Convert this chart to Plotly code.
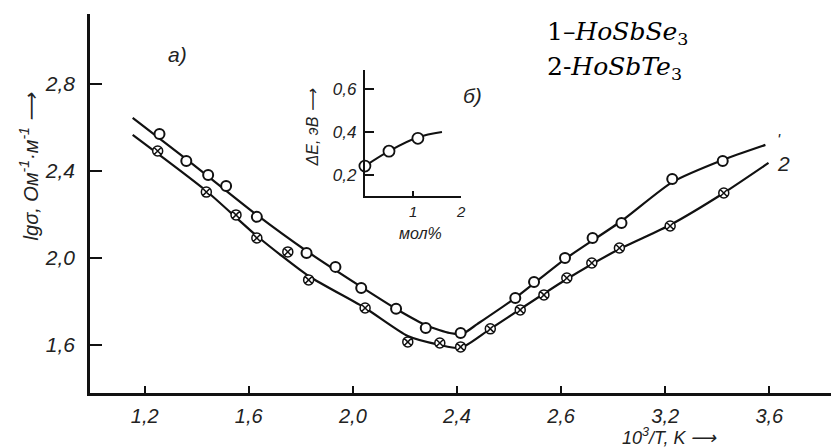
import plotly.graph_objects as go

# ---- main chart data (10^3/T, lg sigma) ----
x_ticks = [1.2, 1.6, 2.0, 2.4, 2.8, 3.2, 3.6]
x_ticktext = ["1,2", "1,6", "2,0", "2,4", "2,6", "3,2", "3,6"]
y_ticks = [1.6, 2.0, 2.4, 2.8]
y_ticktext = ["1,6", "2,0", "2,4", "2,8"]

s1_x = [1.257, 1.360, 1.444, 1.513, 1.631, 1.822, 1.933, 2.032, 2.166, 2.280, 2.414,
        2.624, 2.696, 2.815, 2.921, 3.032, 3.227, 3.421]
s1_y = [2.570, 2.446, 2.382, 2.331, 2.189, 2.023, 1.959, 1.862, 1.766, 1.678, 1.655,
        1.816, 1.890, 2.000, 2.092, 2.161, 2.363, 2.446]

s2_x = [1.250, 1.437, 1.551, 1.631, 1.750, 1.830, 2.047, 2.211, 2.334, 2.414,
        2.528, 2.643, 2.734, 2.822, 2.918, 3.024, 3.219, 3.425]
s2_y = [2.492, 2.303, 2.198, 2.092, 2.028, 1.899, 1.770, 1.614, 1.609, 1.591,
        1.674, 1.761, 1.830, 1.908, 1.977, 2.046, 2.147, 2.299]

c1_x = [1.154, 1.360, 1.631, 1.822, 2.032, 2.173, 2.288, 2.372, 2.421, 2.479, 2.624,
        2.815, 3.032, 3.227, 3.421, 3.585]
c1_y = [2.644, 2.455, 2.198, 2.032, 1.867, 1.761, 1.687, 1.655, 1.651, 1.697, 1.816,
        1.995, 2.170, 2.349, 2.451, 2.520]

c2_x = [1.154, 1.437, 1.631, 1.830, 2.047, 2.211, 2.334, 2.414, 2.528, 2.822, 3.024,
        3.219, 3.425, 3.597]
c2_y = [2.566, 2.308, 2.101, 1.917, 1.770, 1.641, 1.600, 1.586, 1.674, 1.903, 2.041,
        2.152, 2.299, 2.437]

# ---- inset data (mol %, dE eV) ----
in_x = [0.0, 0.5, 1.1]
in_y = [0.24, 0.31, 0.37]
in_line_x = [0.0, 0.5, 1.1, 1.6]
in_line_y = [0.24, 0.31, 0.375, 0.40]
in_xticks = [1, 2]
in_xticktext = ["1", "2"]
in_yticks = [0.2, 0.4, 0.6]
in_yticktext = ["0,2", "0,4", "0,6"]

xtickfont = dict(family="Liberation Sans", size=20, color="#222", style="italic")
ytickfont = dict(family="Liberation Sans", size=21, color="#222", style="italic")
inset_yfont = dict(family="Liberation Sans", size=17, color="#222", style="italic")
inset_xfont = dict(family="Liberation Sans", size=15, color="#222", style="italic")

fig = go.Figure()
fig.add_trace(go.Scatter(x=c1_x, y=c1_y, mode="lines",
                         line=dict(color="#111", width=2.2, shape="spline", smoothing=0.6),
                         hoverinfo="skip"))
fig.add_trace(go.Scatter(x=c2_x, y=c2_y, mode="lines",
                         line=dict(color="#111", width=2.2, shape="spline", smoothing=0.6),
                         hoverinfo="skip"))
fig.add_trace(go.Scatter(x=s1_x, y=s1_y, mode="markers",
                         marker=dict(symbol="circle", size=10, color="white",
                                     line=dict(color="#111", width=2))))
fig.add_trace(go.Scatter(x=s2_x, y=s2_y, mode="markers",
                         marker=dict(symbol="circle-x", size=10, color="white",
                                     line=dict(color="#111", width=1.5))))
fig.add_trace(go.Scatter(x=in_line_x, y=in_line_y, mode="lines", xaxis="x2", yaxis="y2",
                         line=dict(color="#111", width=2, shape="spline")))
fig.add_trace(go.Scatter(x=in_x, y=in_y, mode="markers", xaxis="x2", yaxis="y2",
                         marker=dict(symbol="circle", size=11, color="white",
                                     line=dict(color="#111", width=1.8)),
                         cliponaxis=False))

fig.update_layout(
    width=836, height=448,
    margin=dict(l=90, r=0, t=14, b=55),
    paper_bgcolor="white", plot_bgcolor="white",
    showlegend=False,
    xaxis=dict(range=[0.99, 3.837], tickvals=x_ticks, ticktext=x_ticktext,
               showgrid=False, zeroline=False, showline=True, linecolor="#111", linewidth=2.5,
               ticks="inside", ticklen=7, tickwidth=2, tickcolor="#111",
               tickfont=xtickfont, ticklabelstandoff=3),
    yaxis=dict(range=[1.379, 3.122], tickvals=y_ticks, ticktext=y_ticktext,
               showgrid=False, zeroline=False, showline=True, linecolor="#111", linewidth=2.5,
               ticks="inside", ticklen=12, tickwidth=2, tickcolor="#111",
               tickfont=ytickfont, ticklabelstandoff=8),
    xaxis2=dict(domain=[0.371, 0.501], anchor="y2", range=[0, 2.0], tickvals=in_xticks,
                ticktext=in_xticktext, showgrid=False, zeroline=False, showline=True,
                linecolor="#111", linewidth=2.2, ticks="inside", ticklen=5, tickwidth=1.5,
                tickcolor="#111", tickfont=inset_xfont, ticklabelstandoff=1),
    yaxis2=dict(domain=[0.520, 0.852], anchor="x2", range=[0.10, 0.69], tickvals=in_yticks,
                ticktext=in_yticktext, showgrid=False, zeroline=False, showline=True,
                linecolor="#111", linewidth=2.2, ticks="inside", ticklen=9, tickwidth=1.5,
                tickcolor="#111", tickfont=inset_yfont, ticklabelstandoff=3),
)

ann_font = dict(family="Liberation Sans", color="#222", style="italic")
serif = dict(family="DejaVu Serif", size=25, color="#000")


def px2paper(px, py):
    return (px - 90) / 746, (393 - py) / 379


def note(px, py, text, font, angle=0, xanchor="center"):
    xp, yp = px2paper(px, py)
    fig.add_annotation(xref="paper", yref="paper", x=xp, y=yp, xanchor=xanchor, yanchor="middle",
                       text=text, textangle=angle, showarrow=False, font=font)


note(28, 166, "lgσ, Ом<sup>-1</sup>·м<sup>-1</sup> ⟶", dict(size=20, **ann_font), angle=-90)
note(673, 436, "10<sup>3</sup>/T, K ⟶", dict(size=18, **ann_font))
note(178, 54, "a)", dict(size=21, **ann_font))
note(475, 95, "б)", dict(size=21, **ann_font))
note(314, 127, "ΔE, эВ ⟶", dict(size=16, **ann_font), angle=-90)
note(423, 233, "мол%", dict(size=16, **ann_font))
note(784, 140, "'", dict(size=16, **ann_font))
note(788, 163, "2", dict(size=21, **ann_font))
note(548, 33, "1–<i>HoSbSe</i><sub>3</sub>", serif, xanchor="left")
note(548, 68, "2-<i>HoSbTe</i><sub>3</sub>", serif, xanchor="left")

fig.write_html("out.html")
